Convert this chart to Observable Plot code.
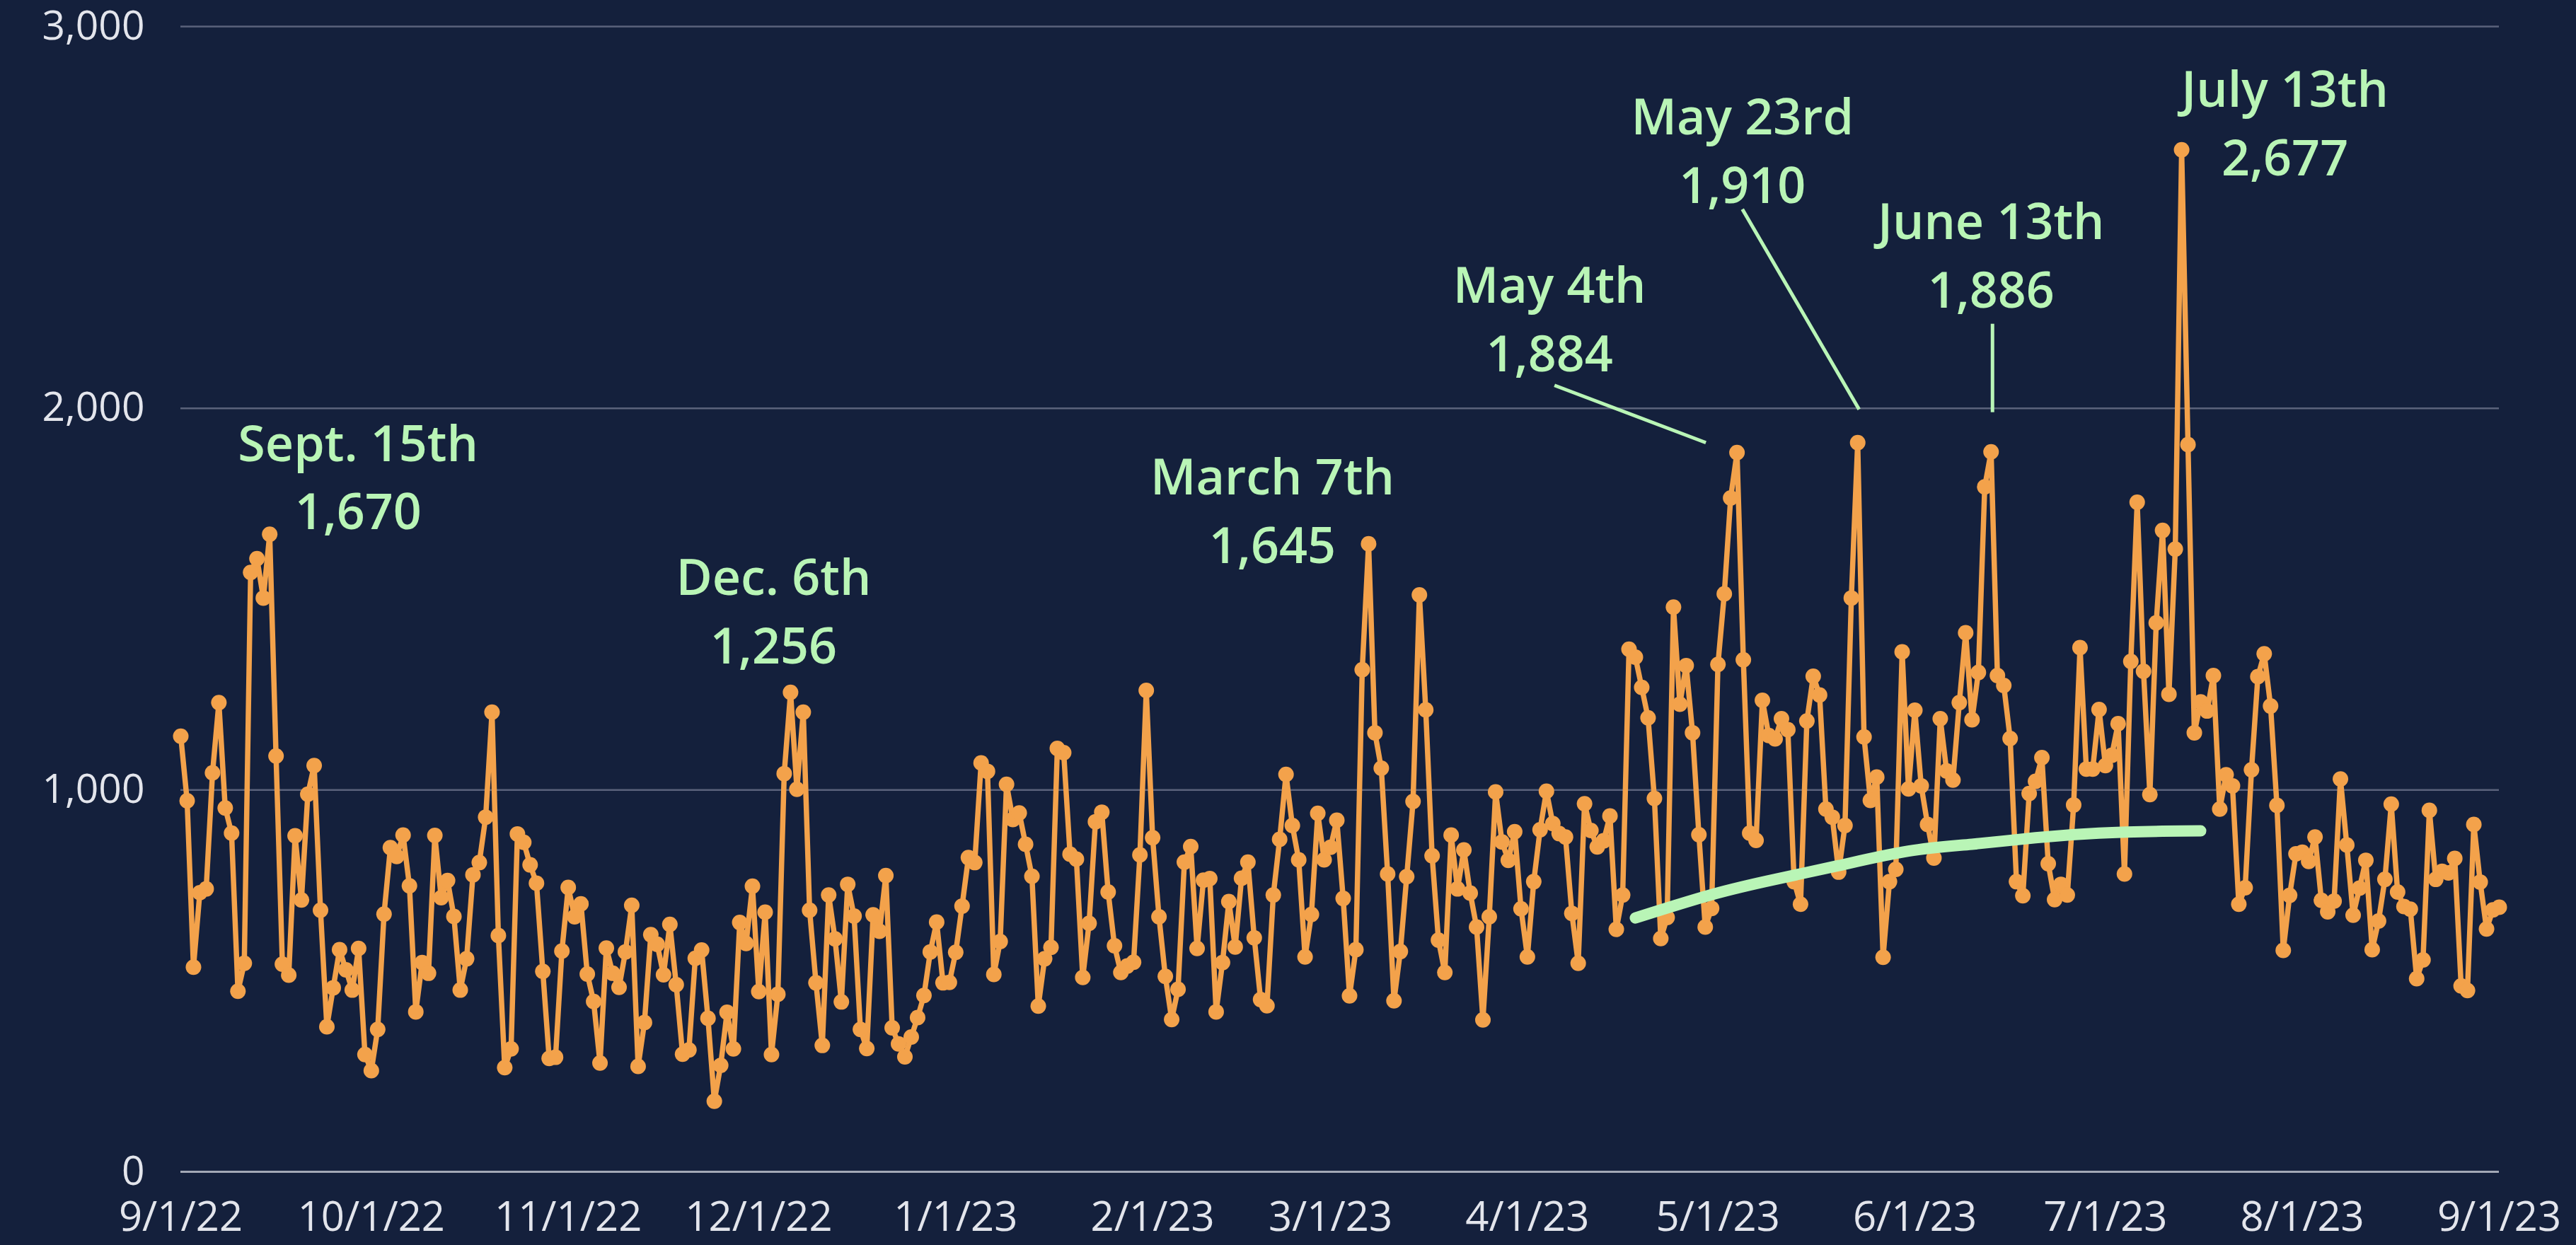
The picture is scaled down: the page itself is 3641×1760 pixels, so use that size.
<!DOCTYPE html>
<html>
<head>
<meta charset="utf-8">
<script src="https://cdn.jsdelivr.net/npm/d3@7"></script>
<script src="https://cdn.jsdelivr.net/npm/@observablehq/plot@0.6"></script>
<style>
  html, body { margin: 0; padding: 0; background: #14203c; }
  #chart svg { display: block; }
</style>
</head>
<body>
<div id="chart"></div>
<script>
// ---- Daily values, one array per month ----
const sep22 = [1141, 972, 536, 731, 741, 1045, 1229, 953, 887, 473, 546, 1570, 1606, 1503, 1670, 1089, 544, 515, 880, 712, 989, 1064, 685, 380, 482, 582, 529, 476, 585, 307];
const oct22 = [265, 373, 675, 849, 826, 882, 749, 419, 548, 520, 881, 718, 763, 669, 476, 558, 778, 810, 929, 1204, 619, 273, 322, 885, 863, 804, 756, 525, 297, 300, 578];
const nov22 = [745, 668, 702, 518, 446, 285, 586, 520, 483, 576, 698, 276, 391, 621, 596, 516, 648, 490, 308, 319, 559, 581, 402, 185, 279, 418, 322, 653, 598, 748];
const dec22 = [472, 680, 307, 465, 1043, 1256, 1002, 1204, 685, 495, 331, 725, 610, 445, 753, 670, 373, 323, 673, 630, 776, 377, 335, 301, 353, 404, 462, 576, 654, 495, 496];
const jan23 = [575, 696, 823, 810, 1071, 1049, 517, 603, 1015, 923, 940, 858, 774, 434, 558, 588, 1109, 1098, 832, 819, 509, 651, 917, 942, 733, 592, 522, 539, 549, 830, 1261];
const feb23 = [875, 668, 512, 399, 478, 811, 852, 585, 764, 768, 419, 548, 708, 589, 769, 811, 613, 451, 435, 725, 871, 1041, 907, 817, 563, 674, 939, 817];
const mar23 = [850, 921, 716, 461, 582, 1315, 1645, 1150, 1057, 780, 448, 577, 773, 970, 1511, 1210, 828, 607, 522, 882, 741, 843, 730, 641, 398, 668, 995, 864, 816, 891, 689];
const apr23 = [563, 760, 896, 997, 912, 886, 877, 677, 546, 964, 894, 851, 867, 932, 635, 725, 1369, 1348, 1269, 1189, 978, 611, 666, 1479, 1225, 1326, 1150, 883, 641, 690];
const may23 = [1329, 1514, 1765, 1884, 1341, 887, 868, 1235, 1143, 1134, 1187, 1158, 760, 701, 1181, 1298, 1249, 950, 929, 785, 907, 1503, 1910, 1139, 973, 1034, 562, 760, 792, 1362, 1003];
const jun23 = [1209, 1011, 910, 822, 1187, 1050, 1026, 1229, 1412, 1184, 1308, 1794, 1886, 1300, 1274, 1135, 760, 723, 991, 1023, 1085, 807, 713, 753, 725, 961, 1373, 1055, 1055, 1211];
const jul23 = [1064, 1091, 1174, 780, 1337, 1754, 1311, 988, 1438, 1680, 1251, 1631, 2677, 1905, 1150, 1231, 1207, 1300, 950, 1040, 1011, 701, 744, 1053, 1297, 1357, 1220, 960, 580, 724, 833];
const aug23 = [837, 813, 877, 711, 681, 709, 1029, 856, 672, 743, 816, 582, 657, 766, 963, 733, 695, 688, 506, 555, 947, 766, 787, 783, 821, 487, 475, 910, 759, 636, 686];
const sep23 = [693];
const firstDay = "2022-09-01";

// ---- Trend curve ----
const trendDates  = ["2023-04-18", "2023-04-30", "2023-05-10", "2023-05-20", "2023-05-31", "2023-06-10", "2023-06-20", "2023-06-30", "2023-07-10", "2023-07-16"];
const trendValues = [665, 726, 766, 802, 840, 858, 875, 887, 892, 893];

// ---- Annotations ----
const annoDates  = ["2022-09-15", "2022-12-06", "2023-03-07", "2023-05-04", "2023-05-23", "2023-06-13", "2023-07-13"];
const annoNames  = ["Sept. 15th", "Dec. 6th", "March 7th", "May 4th", "May 23rd", "June 13th", "July 13th"];
const annoValues = [1670, 1256, 1645, 1884, 1910, 1886, 2677];

// ---- Axis ticks ----
const xTickDates  = ["2022-09-01","2022-10-01","2022-11-01","2022-12-01","2023-01-01","2023-02-01","2023-03-01","2023-04-01","2023-05-01","2023-06-01","2023-07-01","2023-08-01","2023-09-01"];
const xTickLabels = ["9/1/22","10/1/22","11/1/22","12/1/22","1/1/23","2/1/23","3/1/23","4/1/23","5/1/23","6/1/23","7/1/23","8/1/23","9/1/23"];
const yTicks      = [0, 1000, 2000, 3000];
const yTickLabels = ["0", "1,000", "2,000", "3,000"];

// ---- Layout / style (not data) ----
const W = 3641, H = 1760;
const M = {left: 255, right: 109, top: 37, bottom: 104};
const BG = "#14203c", ORANGE = "#f3a24b", GREEN = "#b9f5b6", TICK = "#e3e5ec";
const FONT = "'Open Sans', 'Noto Sans', sans-serif";
// label block centre offset from its point (px)
const labelOffsets = [[125, -86], [-24, -120], [-136, -52], [-265, -194], [-163, -418], [0, -283], [146, -43]];
// leader line [start, end] offsets from the point (px); null = none
const leaderOffsets = [null, null, null, [[-258, -95], [-44, -14]], [[-163, -330], [2, -47]], [[2, -181], [2, -56]], null];

// ---- Build tables ----
const parse = d3.utcParse("%Y-%m-%d");
const allValues = [...sep22, ...oct22, ...nov22, ...dec22, ...jan23, ...feb23, ...mar23, ...apr23, ...may23, ...jun23, ...jul23, ...aug23, ...sep23];
const day0 = parse(firstDay);
const series = allValues.map((v, i) => ({date: d3.utcDay.offset(day0, i), value: v}));
const trend = trendDates.map((d, i) => ({date: parse(d), value: trendValues[i]}));
const annos = annoDates.map((d, i) => ({date: parse(d), value: annoValues[i], label: annoNames[i] + "\n" + d3.format(",")(annoValues[i])}));
const xTicks = xTickDates.map(parse);
const xLabelOf = new Map(xTicks.map((d, i) => [+d, xTickLabels[i]]));
const yLabelOf = new Map(yTicks.map((d, i) => [d, yTickLabels[i]]));

const xDomain = [xTicks[0], xTicks[xTicks.length - 1]];
const yDomain = [0, 3000];
const sx = Plot.scale({x: {type: "utc", domain: xDomain, range: [M.left, W - M.right]}});
const sy = Plot.scale({y: {type: "linear", domain: yDomain, range: [H - M.bottom, M.top]}});

const leaders = [];
annos.forEach((a, i) => {
  const lo = leaderOffsets[i];
  if (!lo) return;
  const px = sx.apply(a.date), py = sy.apply(a.value);
  leaders.push({
    x1: sx.invert(px + lo[0][0]), y1: sy.invert(py + lo[0][1]),
    x2: sx.invert(px + lo[1][0]), y2: sy.invert(py + lo[1][1])
  });
});

const labelMarks = annos.map((a, i) => Plot.text([a], {
  x: "date", y: "value", text: "label",
  dx: labelOffsets[i][0], dy: labelOffsets[i][1],
  fill: GREEN, fontSize: 70, fontWeight: 600, fontFamily: FONT,
  lineHeight: 1.38, lineAnchor: "middle", textAnchor: "middle",
  style: {letterSpacing: "1.5px"}
}));

const chart = Plot.plot({
  width: W, height: H,
  marginLeft: M.left, marginRight: M.right, marginTop: M.top, marginBottom: M.bottom,
  style: {background: BG, fontFamily: FONT, color: TICK, overflow: "visible"},
  x: {type: "utc", domain: xDomain},
  y: {domain: yDomain},
  marks: [
    Plot.gridY(yTicks.filter(d => d > 0), {stroke: "#5a627b", strokeOpacity: 1, strokeWidth: 2.5}),
    Plot.ruleY([0], {stroke: "#a3a8b6", strokeWidth: 3}),
    Plot.axisY(yTicks, {tickSize: 0, tickPadding: 51, fontSize: 57, fill: TICK, tickFormat: d => yLabelOf.get(d), label: null}),
    Plot.axisX(xTicks, {tickSize: 0, tickPadding: 42, fontSize: 58, fill: TICK, tickFormat: d => xLabelOf.get(+d), label: null}),
    Plot.line(series, {x: "date", y: "value", stroke: ORANGE, strokeWidth: 7.5, strokeLinejoin: "round"}),
    Plot.dot(series, {x: "date", y: "value", r: 11, fill: ORANGE, stroke: null}),
    Plot.line(trend, {x: "date", y: "value", stroke: GREEN, strokeWidth: 16, strokeLinecap: "round", curve: "natural"}),
    Plot.link(leaders, {x1: "x1", y1: "y1", x2: "x2", y2: "y2", stroke: GREEN, strokeWidth: 5}),
    ...labelMarks
  ]
});
document.getElementById("chart").appendChild(chart);
</script>
</body>
</html>
